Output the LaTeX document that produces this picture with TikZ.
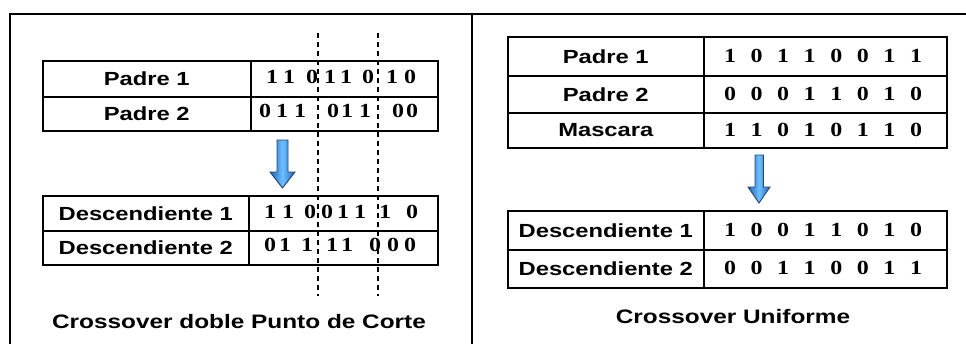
\documentclass[tikz,border=0pt]{standalone}
\usepackage{fontspec}
\newfontfamily\lblfont{Liberation Sans}[FakeStretch=1.25]
\newfontfamily\digfont{Liberation Serif}[FakeStretch=1.2]
\definecolor{arrowdark}{HTML}{1E62B8}
\definecolor{arrowlight}{HTML}{6CC0FF}
\definecolor{arrowline}{HTML}{24446E}
\begin{document}
\begin{tikzpicture}[x=1pt,y=-1pt,
  cell/.style={draw, line width=1.6pt, inner sep=0pt, anchor=north west},
  lbl/.style={font=\lblfont\bfseries\fontsize{19}{20}\selectfont},
  dig/.style={font=\digfont\bfseries\fontsize{20}{22}\selectfont, inner sep=0pt},
  capt/.style={font=\lblfont\bfseries\fontsize{19.5}{21}\selectfont, inner sep=0pt},
  frameline/.style={line width=2.2pt},
  cutline/.style={dash pattern=on 5pt off 4pt, line width=1.5pt},
  blockarrow/.style={draw=arrowline, line width=0.9pt, left color=arrowdark, right color=arrowdark, middle color=arrowlight}]
\useasboundingbox (0,0) rectangle (966,343);
\fill[white] (0,0) rectangle (966,343);
% frame
\coordinate (fTL) at (10,14);
\coordinate (fTR) at (968,14);
\coordinate (fBL) at (10,345);
\coordinate (dT) at (472,14);
\coordinate (dB) at (472,345);
\draw[frameline] (fBL) -- (fTL) -- (fTR);
\draw[frameline] (dT) -- (dB);

% ---------- left panel ----------
\node[cell, lbl, minimum width=208pt, minimum height=36pt] (lp1) at (42,60) {Padre 1};
\node[cell, minimum width=187pt, minimum height=36pt] (lp1b) at (250,60) {};
\node[cell, lbl, minimum width=208pt, minimum height=34pt] (lp2) at (42,96) {Padre 2};
\node[cell, minimum width=187pt, minimum height=34pt] (lp2b) at (250,96) {};

\node[cell, lbl, minimum width=206pt, minimum height=35pt] (ld1) at (42,195) {Descendiente 1};
\node[cell, minimum width=189pt, minimum height=35pt] (ld1b) at (248,195) {};
\node[cell, lbl, minimum width=206pt, minimum height=34pt] (ld2) at (42,230) {Descendiente 2};
\node[cell, minimum width=189pt, minimum height=34pt] (ld2b) at (248,230) {};

\foreach \x/\d [count=\i] in {272/1,289/1,312/0,330/1,346/1,368/0,392/1,410/0}
  \node[dig] (lpa\i) at (\x,77) {\d};
\foreach \x/\d [count=\i] in {265/0,282/1,300/1,333/0,347/1,365/1,398/0,412/0}
  \node[dig] (lpb\i) at (\x,111) {\d};
\foreach \x/\d [count=\i] in {270/1,288/1,310/0,327/0,343/1,360/1,385/1,412/0}
  \node[dig] (lda\i) at (\x,212) {\d};
\foreach \x/\d [count=\i] in {270/0,285/1,307/1,332/1,347/1,375/0,393/0,410/0}
  \node[dig] (ldb\i) at (\x,245) {\d};

% cut lines
\coordinate (cutAt) at (318,33);
\coordinate (cutAb) at (318,296);
\coordinate (cutBt) at (378,33);
\coordinate (cutBb) at (378,296);
\draw[cutline] (cutAt) -- (cutAb);
\draw[cutline] (cutBt) -- (cutBb);

% left arrow
\path[blockarrow] (277,140) -- (288,140) -- (288,172) -- (295,172) -- (282.5,188) -- (270,172) -- (277,172) -- cycle;

\node[capt] (capL) at (239,322) {Crossover doble Punto de Corte};

% ---------- right panel ----------
\node[cell, lbl, minimum width=196pt, minimum height=39pt] (rp1) at (507,36) {Padre 1};
\node[cell, minimum width=243pt, minimum height=39pt] (rp1b) at (703,36) {};
\node[cell, lbl, minimum width=196pt, minimum height=37pt] (rp2) at (507,75) {Padre 2};
\node[cell, minimum width=243pt, minimum height=37pt] (rp2b) at (703,75) {};
\node[cell, lbl, minimum width=196pt, minimum height=35pt] (rm) at (507,112) {Mascara};
\node[cell, minimum width=243pt, minimum height=35pt] (rmb) at (703,112) {};

\node[cell, lbl, minimum width=196pt, minimum height=39pt] (rd1) at (507,210) {Descendiente 1};
\node[cell, minimum width=243pt, minimum height=39pt] (rd1b) at (703,210) {};
\node[cell, lbl, minimum width=196pt, minimum height=38pt] (rd2) at (507,249) {Descendiente 2};
\node[cell, minimum width=243pt, minimum height=38pt] (rd2b) at (703,249) {};

\foreach \d [count=\i] in {1,0,1,1,0,0,1,1}
  \node[dig] (rpa\i) at ({730+26.57*(\i-1)},55.5) {\d};
\foreach \d [count=\i] in {0,0,0,1,1,0,1,0}
  \node[dig] (rpb\i) at ({730+26.57*(\i-1)},93.5) {\d};
\foreach \d [count=\i] in {1,1,0,1,0,1,1,0}
  \node[dig] (rmk\i) at ({730+26.57*(\i-1)},129.5) {\d};
\foreach \d [count=\i] in {1,0,0,1,1,0,1,0}
  \node[dig] (rda\i) at ({730+26.57*(\i-1)},229.5) {\d};
\foreach \d [count=\i] in {0,0,1,1,0,0,1,1}
  \node[dig] (rdb\i) at ({730+26.57*(\i-1)},268) {\d};

% right arrow
\path[blockarrow] (755,155) -- (763.5,155) -- (763.5,187) -- (770,187) -- (759,203) -- (748,187) -- (755,187) -- cycle;

\node[capt] (capR) at (733,317) {Crossover Uniforme};
\end{tikzpicture}
\end{document}
